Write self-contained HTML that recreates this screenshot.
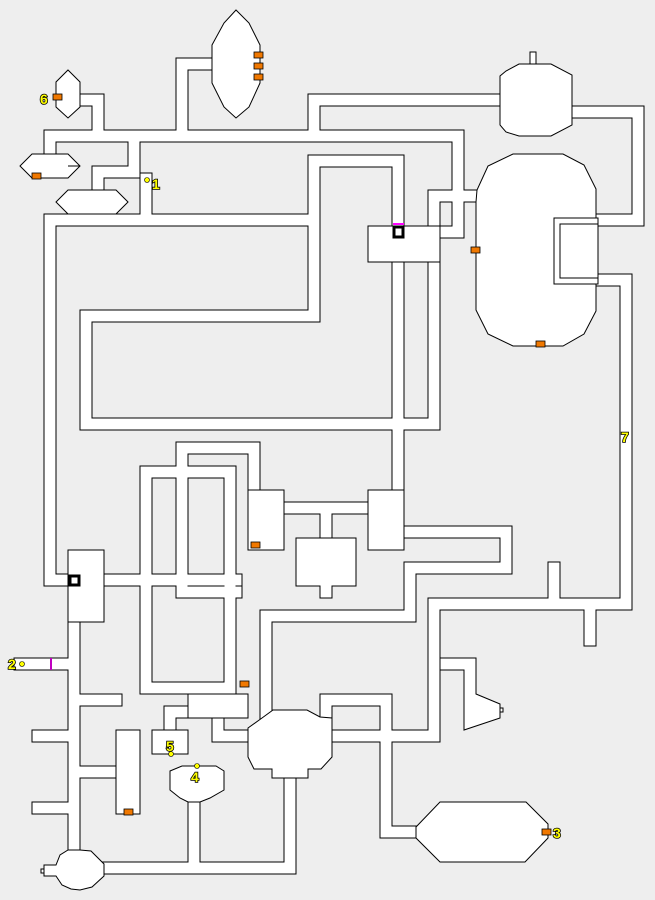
<!DOCTYPE html>
<html><head><meta charset="utf-8"><style>
html,body{margin:0;padding:0;background:#eeeeee;}
svg{display:block;}
.lbl{font-family:"Liberation Sans",sans-serif;font-weight:bold;font-size:14px;fill:#ffff00;stroke:#000;stroke-width:1.6;paint-order:stroke;}
</style></head><body>
<svg width="655" height="900" viewBox="0 0 655 900" xmlns="http://www.w3.org/2000/svg">
<rect width="655" height="900" fill="#eeeeee"/>
<defs>
<g id="cor" fill="none" stroke-linejoin="miter" stroke-linecap="square">
<polyline points="82,100 98,100 98,136"/>
<polyline points="50,154 50,136 458,136 458,232 440,232"/>
<polyline points="134,136 134,172 98,172 98,190"/>
<polyline points="146,179 146,220"/>
<polyline points="212,64 182,64 182,136"/>
<polyline points="314,136 314,100 500,100"/>
<polyline points="68,580 50,580 50,220 314,220"/>
<polyline points="398,226 398,161 314,161 314,316 86,316 86,424 434,424 434,196 477,196"/>
<polyline points="398,262 398,490"/>
<polyline points="574,112 638,112 638,220 598,220"/>
<polyline points="598,280 626,280 626,604 434,604 434,736 218,736 218,718"/>
<polyline points="554,568 554,604"/>
<polyline points="590,604 590,640"/>
<polyline points="104,580 236,580"/>
<rect x="146" y="472" width="84" height="216"/>
<polyline points="254,490 254,448 182,448 182,592 236,592"/>
<polyline points="286,508 368,508"/>
<polyline points="326,508 326,538"/>
<polyline points="404,532 506,532 506,568 410,568 410,616 266,616 266,716"/>
<polyline points="74,622 74,850"/>
<polyline points="20,664 74,664"/>
<polyline points="74,700 116,700"/>
<polyline points="38,736 74,736"/>
<polyline points="38,808 74,808"/>
<polyline points="74,772 116,772"/>
<polyline points="104,868 290,868 290,778"/>
<polyline points="194,802 194,868"/>
<polyline points="326,716 326,700 386,700 386,832 416,832"/>
<polyline points="170,730 170,712 188,712"/>
</g>
</defs>
<use href="#cor" stroke="#000" stroke-width="13"/>
<use href="#cor" stroke="#fff" stroke-width="11"/>
<g fill="#fff" stroke="#000" stroke-width="1">
<rect x="530" y="52" width="6" height="12"/>
<polygon points="236,10 249,23 260,45 260,83 249,107 236,118 224,107 212,83 212,45 224,23"/>
<polygon points="68,70 80,82 80,107 68,118 56,107 56,82"/>
<polygon points="32,154 68,154 80,166 68,178 32,178 20,166"/>
<line x1="68" y1="166" x2="80" y2="166"/>
<polygon points="68,190 116,190 128,202 116,214 68,214 56,202"/>
<polygon points="519,64 551,64 572,75 572,125 551,136 519,136 506,132 500,125 500,76 506,71"/>
<polygon points="513,154 563,154 584,165 596,189 596,311 584,334 563,346 513,346 488,334 476,310 476,202 477,190 488,166"/>
<rect x="554" y="218" width="44" height="66"/>
<rect x="560" y="224" width="38" height="54"/>
<rect x="368" y="226" width="72" height="36"/>
<rect x="68" y="550" width="36" height="72"/>
<rect x="248" y="490" width="36" height="60"/>
<rect x="368" y="490" width="36" height="60"/>
<polygon points="296,538 356,538 356,586 332,586 332,598 320,598 320,586 296,586"/>
<polygon points="440,658 476,658 476,694 500,704 500,718 464,730 464,670 440,670"/>
<rect x="500" y="708" width="3" height="4"/>
<polygon points="273,710 307,710 320,717 332,718 332,757 321,769 308,769 308,778 272,778 272,769 254,769 248,757 248,728 262,718"/>
<polygon points="416,827 440,802 526,802 548,824 548,838 525,862 440,862 416,838"/>
<polygon points="80,850 91,851 104,864 104,876 92,887 80,890 71,889 62,885 56,876 44,876 44,865 56,865 60,855 68,850"/>
<rect x="41" y="869" width="3" height="4"/>
<rect x="116" y="730" width="24" height="84"/>
<polygon points="170,771 182,766 216,766 224,771 224,790 210,798 200,802 188,802 180,798 170,790"/>
<rect x="152" y="730" width="36" height="24"/>
<rect x="188" y="694" width="60" height="24"/>
</g>
<g fill="none" stroke="#000" stroke-width="3">
<rect x="70" y="576" width="9" height="9"/>
<rect x="394" y="227" width="9" height="10"/>
</g>
<rect x="393" y="223" width="11" height="2" fill="#ff00ff"/>
<rect x="50" y="658" width="2" height="12" fill="#c000c0"/>
<g fill="#f07800" stroke="#000" stroke-width="0.8">
<rect x="254" y="52" width="9" height="6"/><rect x="254" y="63" width="9" height="6"/><rect x="254" y="74" width="9" height="6"/>
<rect x="53" y="94" width="9" height="6"/><rect x="32" y="173" width="9" height="6"/>
<rect x="471" y="247" width="9" height="6"/><rect x="536" y="341" width="9" height="6"/>
<rect x="251" y="542" width="9" height="6"/><rect x="240" y="681" width="9" height="6"/>
<rect x="124" y="809" width="9" height="6"/><rect x="542" y="829" width="9" height="6"/>
</g>
<g fill="#ffff00" stroke="#000" stroke-width="0.6">
<circle cx="147" cy="180" r="2.5"/><circle cx="22" cy="664" r="2.5"/>
<circle cx="171" cy="754" r="2.5"/><circle cx="197" cy="766" r="2.5"/>
</g>
<text class="lbl" x="152" y="189">1</text>
<text class="lbl" x="8" y="669">2</text>
<text class="lbl" x="553" y="838">3</text>
<text class="lbl" x="191" y="782">4</text>
<text class="lbl" x="166" y="751">5</text>
<text class="lbl" x="40" y="104">6</text>
<text class="lbl" x="621" y="442">7</text>
</svg>
</body></html>
